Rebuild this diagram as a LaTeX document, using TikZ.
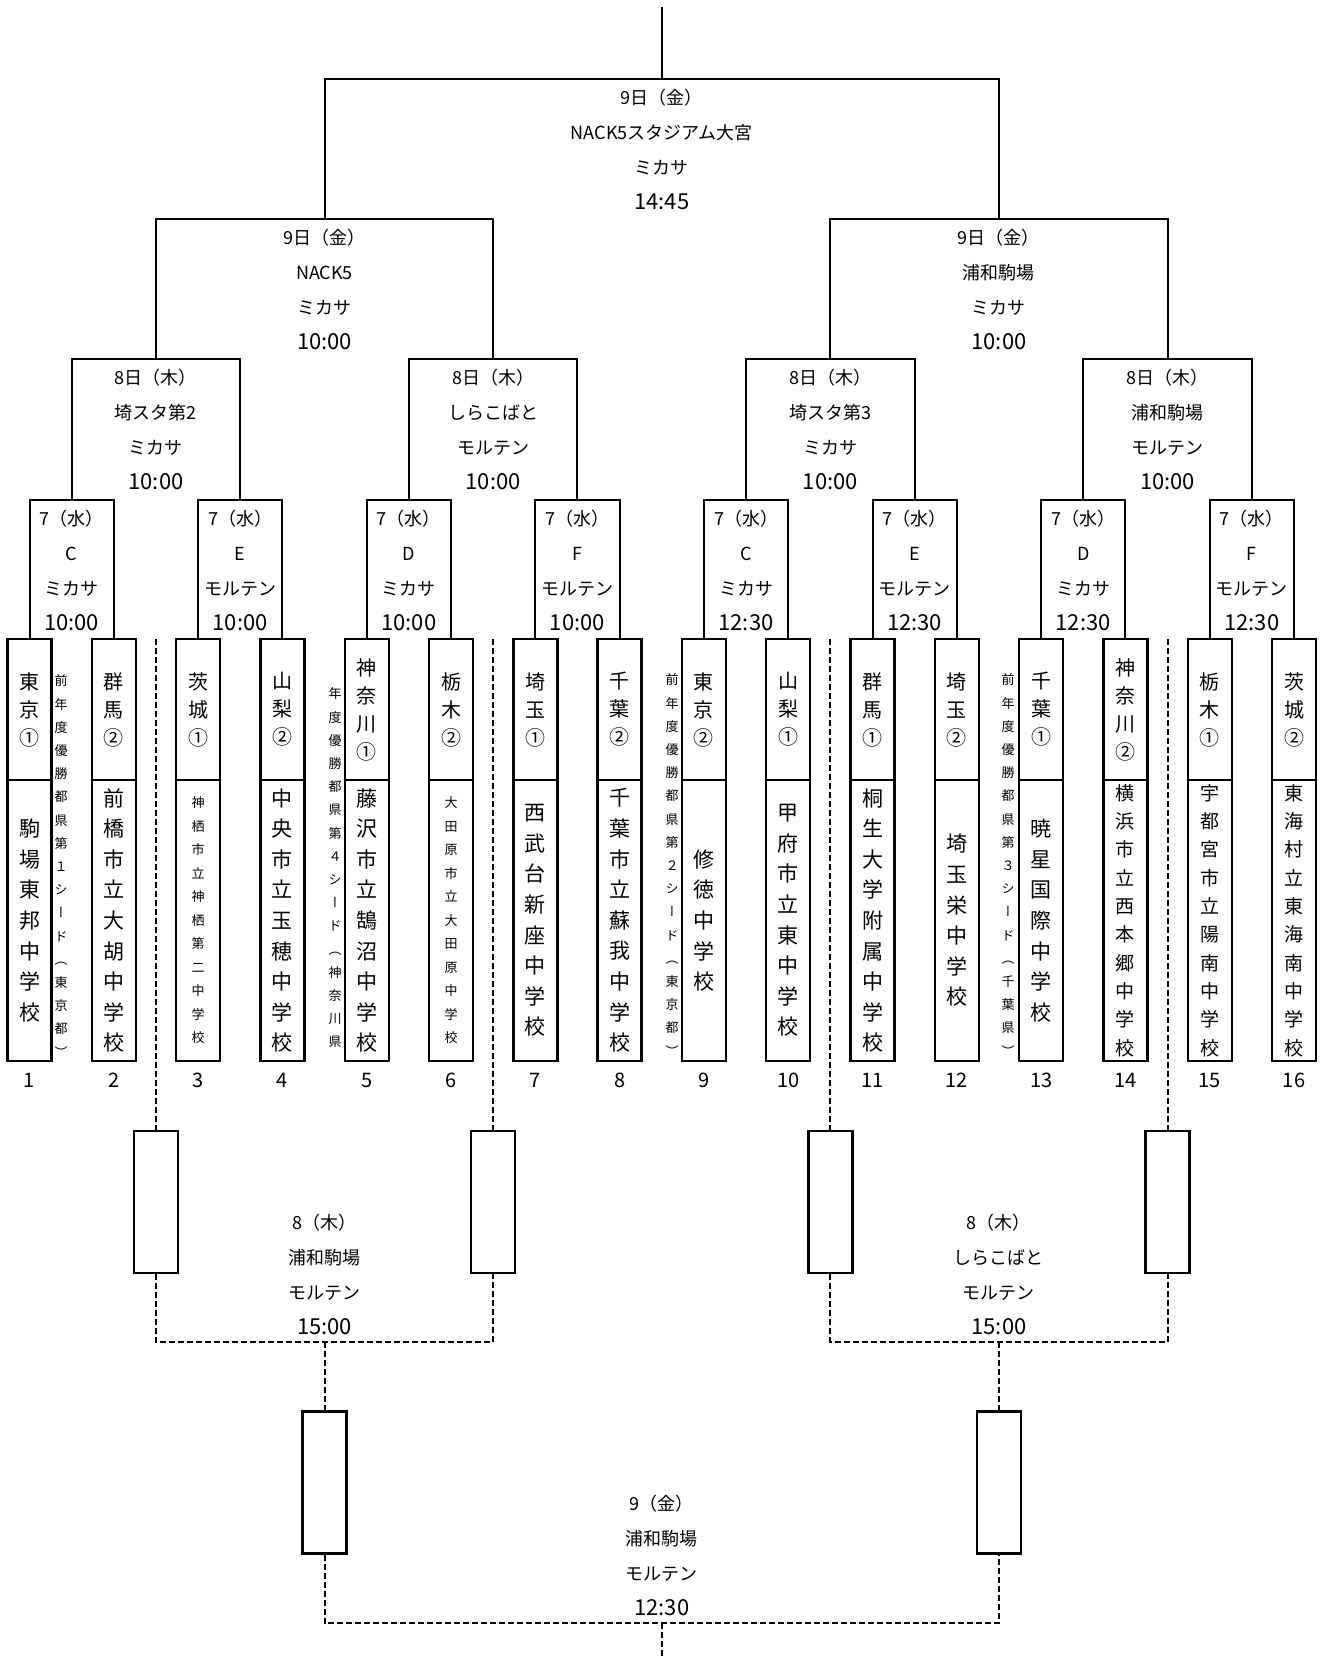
\documentclass[tikz,border=0pt]{standalone}
\usepackage{fontspec}
\setmainfont{Noto Sans CJK JP}
\newfontfamily\tatefont[RawFeature=+vert]{Noto Sans CJK JP}
\usetikzlibrary{positioning}

% stack the characters of a text one below the other
\newcommand\tate[2]{\vbox{\baselineskip=#1\lineskiplimit=-50pt\lineskip=0pt\expandafter\tatechar#2\relax}}
\def\tatechar#1{\ifx\relax#1\else\hbox to 1em{\hss#1\hss}\expandafter\tatechar\fi}
% kick-off time, a little larger
\newcommand\tm[1]{{\fontsize{11}{17.5}\selectfont#1}}

\begin{document}
\begin{tikzpicture}[x=0.5pt, y=-0.5pt,
  bracket/.style={line width=1pt},
  brokenline/.style={line width=1pt, dash pattern=on 3pt off 1.5pt},
  box/.style={draw, line width=1.2pt, fill=white, minimum width=22pt, minimum height=211pt, inner sep=0},
  cbox/.style={draw, line width=1.2pt, fill=white, minimum width=22pt, minimum height=71pt, inner sep=0},
  info/.style={align=center, inner sep=0, font=\fontsize{9}{17.5}\selectfont},
  num/.style={inner sep=0, font=\fontsize{10}{12}\selectfont},
  seed/.style={inner sep=0, font=\tatefont\fontsize{6.5}{8}\selectfont}]
  \useasboundingbox (0,0) rectangle (1321,1656);

  % Team boxes: prefecture on top, school below
  \foreach \i/\pref/\school/\fs/\pitch in {
      1/東京①/駒場東邦中学校/10.5/15.3,
      2/群馬②/前橋市立大胡中学校/10.5/15.3,
      3/茨城①/神栖市立神栖第二中学校/6.5/11.75,
      4/山梨②/中央市立玉穂中学校/10.5/15.3,
      5/神奈川①/藤沢市立鵠沼中学校/10.5/15.3,
      6/栃木②/大田原市立大田原中学校/6.5/11.75,
      7/埼玉①/西武台新座中学校/10.5/15.3,
      8/千葉②/千葉市立蘇我中学校/10.5/15.3,
      9/東京②/修徳中学校/10.5/15.3,
      10/山梨①/甲府市立東中学校/10.5/15.3,
      11/群馬①/桐生大学附属中学校/10.5/15.3,
      12/埼玉②/埼玉栄中学校/10.5/15.3,
      13/千葉①/暁星国際中学校/10.5/15.3,
      14/神奈川②/横浜市立西本郷中学校/9.5/14.15,
      15/栃木①/宇都宮市立陽南中学校/9.5/14.15,
      16/茨城②/東海村立東海南中学校/9.5/14.15} {
    \node[box] (t\i) at ({29.5+84.3*(\i-1)},850) {};
    \draw[line width=1.2pt] (t\i.west |- 0,780) -- (t\i.east |- 0,780);
    \node[inner sep=0, font=\fontsize{10}{12}\selectfont] (p\i) at ({29.5+84.3*(\i-1)},709.5) {\tate{14pt}{\pref}};
    \node[inner sep=0, font=\fontsize{\fs}{\fs}\selectfont] (s\i) at ({29.5+84.3*(\i-1)},920.5) {\tate{\pitch pt}{\school}};
    \node[num, below=5.3pt of t\i] (n\i) {\i};
  }

  % Seed notes beside the boxes
  \node[seed] (sd1) at (61,866) {\tate{11.6pt}{前年度優勝都県第１シード（東京都）}};
  \node[seed] (sd5) at (335,868) {\tate{11.6pt}{年度優勝都県第４シード（神奈川県}};
  \node[seed] (sd9) at (672,865) {\tate{11.6pt}{前年度優勝都県第２シード（東京都）}};
  \node[seed] (sd13) at (1008,865) {\tate{11.6pt}{前年度優勝都県第３シード（千葉県）}};

  % Match points of each round
  \foreach \k in {1,...,8} \coordinate (r\k) at ({71.65+168.6*(\k-1)},500);
  \foreach \k in {1,...,4} \coordinate (q\k) at ({155.95+337.2*(\k-1)},359);
  \foreach \k in {1,2} \coordinate (s\k) at ({324.55+674.4*(\k-1)},219);
  \coordinate (f) at (661.75,79);
  \coordinate (top) at (661.75,7);

  % Bracket lines
  \foreach \k in {1,...,8} {
    \pgfmathtruncatemacro\lft{2*\k-1}
    \pgfmathtruncatemacro\rgt{2*\k}
    \draw[bracket] (t\lft.north) |- (r\k) -| (t\rgt.north);
  }
  \foreach \k in {1,...,4} {
    \pgfmathtruncatemacro\lft{2*\k-1}
    \pgfmathtruncatemacro\rgt{2*\k}
    \draw[bracket] (r\lft) |- (q\k) -| (r\rgt);
  }
  \draw[bracket] (q1) |- (s1) -| (q2);
  \draw[bracket] (q3) |- (s2) -| (q4);
  \draw[bracket] (s1) |- (f) -| (s2);
  \draw[bracket] (f) -- (top);

  % Round 1 labels
  \foreach \k/\grp/\brand/\kick in {1/C/ミカサ/10:00, 2/E/モルテン/10:00,
      3/D/ミカサ/10:00, 4/F/モルテン/10:00, 5/C/ミカサ/12:30,
      6/E/モルテン/12:30, 7/D/ミカサ/12:30, 8/F/モルテン/12:30}
    \node[info, below=4.6pt of r\k] (lr\k) {7（水）\\\grp\\\brand\\\tm{\kick}};

  % Quarter-final labels
  \node[info, below=4.6pt of q1] (lq1) {8日（木）\\埼スタ第2\\ミカサ\\\tm{10:00}};
  \node[info, below=4.6pt of q2] (lq2) {8日（木）\\しらこばと\\モルテン\\\tm{10:00}};
  \node[info, below=4.6pt of q3] (lq3) {8日（木）\\埼スタ第3\\ミカサ\\\tm{10:00}};
  \node[info, below=4.6pt of q4] (lq4) {8日（木）\\浦和駒場\\モルテン\\\tm{10:00}};

  % Semi-final and final labels
  \node[info, below=4.6pt of s1] (ls1) {9日（金）\\NACK5\\ミカサ\\\tm{10:00}};
  \node[info, below=4.6pt of s2] (ls2) {9日（金）\\浦和駒場\\ミカサ\\\tm{10:00}};
  \node[info, below=4.6pt of f] (lf) {9日（金）\\NACK5スタジアム大宮\\ミカサ\\\tm{14:45}};

  % Consolation bracket (dashed)
  \foreach \k in {1,...,4} {
    \coordinate (d\k) at (q\k |- 0,639);
    \node[cbox] (cb\k) at (q\k |- 0,1202) {};
    \draw[brokenline] (d\k) -- (cb\k.north);
  }
  \coordinate (k1) at (s1 |- 0,1342);
  \coordinate (k2) at (s2 |- 0,1342);
  \draw[brokenline] (cb1.south) |- (k1) -| (cb2.south);
  \draw[brokenline] (cb3.south) |- (k2) -| (cb4.south);
  \node[cbox] (lb1) at (s1 |- 0,1482.5) {};
  \node[cbox] (lb2) at (s2 |- 0,1482.5) {};
  \draw[brokenline] (k1) -- (lb1.north);
  \draw[brokenline] (k2) -- (lb2.north);
  \coordinate (kf) at (f |- 0,1623);
  \coordinate (bottom) at (f |- 0,1656);
  \draw[brokenline] (lb1.south) |- (kf) -| (lb2.south);
  \draw[brokenline] (kf) -- (bottom);

  \node[info, above=3.5pt of k1] (lk1) {8（木）\\浦和駒場\\モルテン\\\tm{15:00}};
  \node[info, above=3.5pt of k2] (lk2) {8（木）\\しらこばと\\モルテン\\\tm{15:00}};
  \node[info, above=3.5pt of kf] (lkf) {9（金）\\浦和駒場\\モルテン\\\tm{12:30}};
\end{tikzpicture}
\end{document}
